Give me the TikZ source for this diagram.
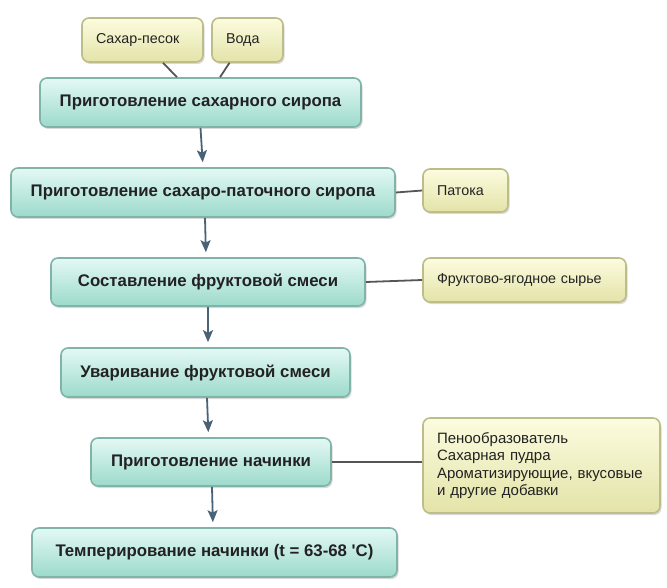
\documentclass[tikz,border=0pt]{standalone}
\usepackage{fontspec}
\setmainfont{Liberation Sans}
\usetikzlibrary{shadows,calc,arrows.meta}
\definecolor{mtop}{HTML}{E4F9F4}
\definecolor{mbot}{HTML}{9CDACB}
\definecolor{mborder}{HTML}{80B4A8}
\definecolor{ytop}{HTML}{FCFCE0}
\definecolor{ybot}{HTML}{E3E3A8}
\definecolor{yborder}{HTML}{BDBD8A}
\definecolor{arrc}{HTML}{4A6275}
\definecolor{linec}{HTML}{555555}
\definecolor{txt}{HTML}{222222}
\begin{document}
\begin{tikzpicture}[x=1pt,y=-1pt,
  mainbox/.style={rounded corners=7pt, draw=mborder, line width=1.6pt,
    top color=mtop, bottom color=mbot,
    drop shadow={shadow xshift=1.5pt, shadow yshift=-2pt, opacity=0.3},
    font=\bfseries\fontsize{16.8}{20}\selectfont, text=txt, inner sep=0pt},
  ybox/.style={rounded corners=7pt, draw=yborder, line width=1.6pt,
    top color=ytop, bottom color=ybot,
    drop shadow={shadow xshift=1.5pt, shadow yshift=-2pt, opacity=0.3},
    font=\fontsize{14.3}{17.5}\selectfont, text=txt, inner xsep=14pt, inner ysep=0pt, align=left},
  arr/.style={draw=arrc, line width=1.8pt, -{Stealth[length=12pt,width=10pt,inset=2.5pt]}, shorten >=5pt},
  link/.style={draw=linec, line width=1.8pt}
]
\useasboundingbox (0,0) rectangle (667,588);

\node[ybox, text width=93pt, minimum height=44pt] (sug) at (142.5,40) {Сахар-песок};
\node[ybox, text width=43pt, minimum height=44pt] (voda) at (247.5,40) {Вода};
\node[mainbox, minimum width=321pt, minimum height=49pt] (b3) at (200.5,102.5) {Приготовление сахарного сиропа};
\node[mainbox, minimum width=384pt, minimum height=49pt] (b4) at (203,192.5) {Приготовление сахаро-паточного сиропа};
\node[ybox, text width=57pt, minimum height=43pt] (pat) at (465.5,190.5) {Патока};
\node[mainbox, minimum width=314pt, minimum height=48pt] (b5) at (208,282) {Составление фруктовой смеси};
\node[ybox, text width=175pt, minimum height=44pt] (fr) at (524.5,280) {Фруктово-ягодное сырье};
\node[mainbox, minimum width=289pt, minimum height=49pt] (b6) at (205.5,372.5) {Уваривание фруктовой смеси};
\node[mainbox, minimum width=240pt, minimum height=48pt] (b7) at (211,462) {Приготовление начинки};
\node[ybox, text width=209pt, minimum height=95pt, font=\fontsize{15}{17.6}\selectfont] (add) at (541.5,465.5) {Пенообразователь\\Сахарная пудра\\Ароматизирующие, вкусовые\\и другие добавки};
\node[mainbox, minimum width=365pt, minimum height=49pt] (b9) at (214.5,552.5) {Темперирование начинки (t = 63-68 \textquotesingle C)};

\draw[link] ([xshift=20.5pt]sug.south) -- ([xshift=-23.5pt]b3.north);
\draw[link] ([xshift=-18pt]voda.south) -- ([xshift=19.5pt]b3.north);
\draw[link] (b4.east) -- (pat.west);
\draw[link] (b5.east) -- (fr.west);
\draw[link] (b7.east) -- (b7.east -| add.west);

\draw[arr] (b3.south) -- (b4.north);
\draw[arr] ([xshift=2pt]b4.south) -- ([xshift=-2pt]b5.north);
\draw[arr] (b5.south) -- ([xshift=2.5pt]b6.north);
\draw[arr] ([xshift=1.5pt]b6.south) -- ([xshift=-2.5pt]b7.north);
\draw[arr] ([xshift=1pt]b7.south) -- ([xshift=-1.5pt]b9.north);
\end{tikzpicture}
\end{document}
